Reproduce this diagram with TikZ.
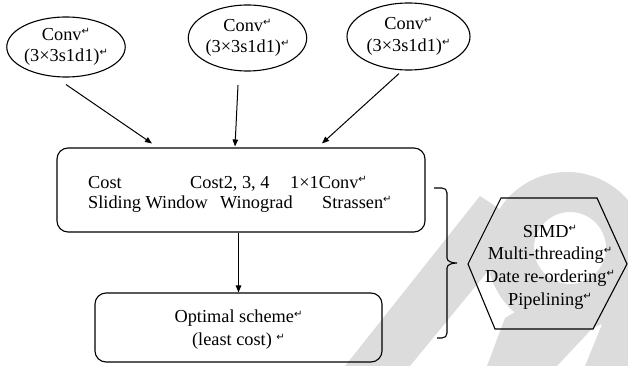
\documentclass[tikz,border=0pt]{standalone}
\usepackage{fontspec}
\setmainfont{Liberation Serif}
\newfontfamily\markfont{DejaVu Sans}
\usetikzlibrary{arrows.meta,shapes.geometric}

% small return mark shown after each paragraph
\newcommand\parmark{\raisebox{0.7ex}{\fontsize{10}{10}\selectfont\markfont ↵}}

\definecolor{wmgray}{HTML}{DCDCDC}

\tikzset{
  txt/.style={inner sep=0pt, font=\fontsize{18.3}{21}\selectfont},
  convnode/.style={ellipse, draw, line width=1.1pt, inner sep=0pt,
    align=center, font=\fontsize{18.3}{21.5}\selectfont},
  roundbox/.style={rectangle, draw, line width=1.1pt, rounded corners=11pt,
    inner sep=0pt},
  arr/.style={line width=1pt, -{Triangle[length=7pt,width=5.5pt]}},
  wm/.style={fill=wmgray, draw=none}
}

\begin{document}
\begin{tikzpicture}[x=1pt,y=-1pt]
\useasboundingbox (0,0) rectangle (628,366);

% light grey background lettering
\begin{scope}
  \clip (0,0) rectangle (628,366);
  % slanted stem
  \fill[wm] (345,366) -- (410,366) -- (525,226) -- (480,196) -- cycle;
  % bowl
  \fill[wm, even odd rule] (567,252) circle[radius=80] (570,248) circle[radius=36];
  % leg under the hexagon
  \fill[wm] (487,366) -- (557,366) -- (602,318) -- (548,292) -- (505,318) -- cycle;
  % stroke at the right edge
  \fill[wm] (585,366) -- (640,366) -- (640,270) -- (612,300) -- cycle;
\end{scope}

% convolution inputs
\node[convnode, minimum width=115pt, minimum height=60pt] (c1) at (66,47)
  {Conv\parmark\\(3×3s1d1)\parmark};
\node[convnode, minimum width=115pt, minimum height=66pt] (c2) at (247.5,38)
  {Conv\parmark\\(3×3s1d1)\parmark};
\node[convnode, minimum width=123pt, minimum height=67pt] (c3) at (408.5,36.5)
  {Conv\parmark\\(3×3s1d1)\parmark};

% algorithm box
\node[roundbox, minimum width=368pt, minimum height=84pt] (alg) at (241,190) {};
\node[txt, anchor=base west] (t11) at (88,188) {Cost};
\node[txt, anchor=base west] (t12) at (190,188) {Cost2, 3, 4};
\node[txt, anchor=base west] (t13) at (290,188) {1×1Conv\parmark};
\node[txt, anchor=base west] (t21) at (88,208) {Sliding Window};
\node[txt, anchor=base west] (t22) at (220,208) {Winograd};
\node[txt, anchor=base west] (t23) at (322,208) {Strassen\parmark};

% result box
\node[roundbox, minimum width=287pt, minimum height=69pt] (opt) at (238.5,327.5) {};
\node[txt, align=center, font=\fontsize{18.3}{23}\selectfont] (optt) at (238.5,330)
  {Optimal scheme\parmark\\(least cost) \parmark};

% arrows
\draw[arr] ([yshift=-7pt]c1.south) -- ([xshift=-89pt,yshift=4pt]alg.north);
\draw[arr] ([xshift=-9.5pt,yshift=-13.5pt]c2.south) -- ([xshift=-6pt,yshift=1pt]alg.north);
\draw[arr] ([xshift=-9.5pt,yshift=-3pt]c3.south) -- ([xshift=81pt,yshift=4pt]alg.north);
\draw[arr] (opt.north |- alg.south) -- (opt.north);

% optimisation hexagon
\node[txt, align=center, font=\fontsize{18.3}{22.7}\selectfont] (hx) at (550,267)
  {SIMD\parmark\\Multi-threading\parmark\\Date re-ordering\parmark\\Pipelining\parmark};
\draw[line width=1.1pt, line join=miter]
  (501,198) -- (597,198) -- (627,264) -- (593,329) -- (495,329) -- (468,264) -- cycle;

% brace
\draw[line width=1.1pt]
  (434,188) -- (442,188) .. controls (445,188) and (447,190) .. (447,193)
  -- (447,258) .. controls (447,261) and (451,263) .. (457,263)
  .. controls (451,263) and (447,265) .. (447,268)
  -- (447,333) .. controls (447,336) and (445,338) .. (442,338) -- (437,338);
\end{tikzpicture}
\end{document}
